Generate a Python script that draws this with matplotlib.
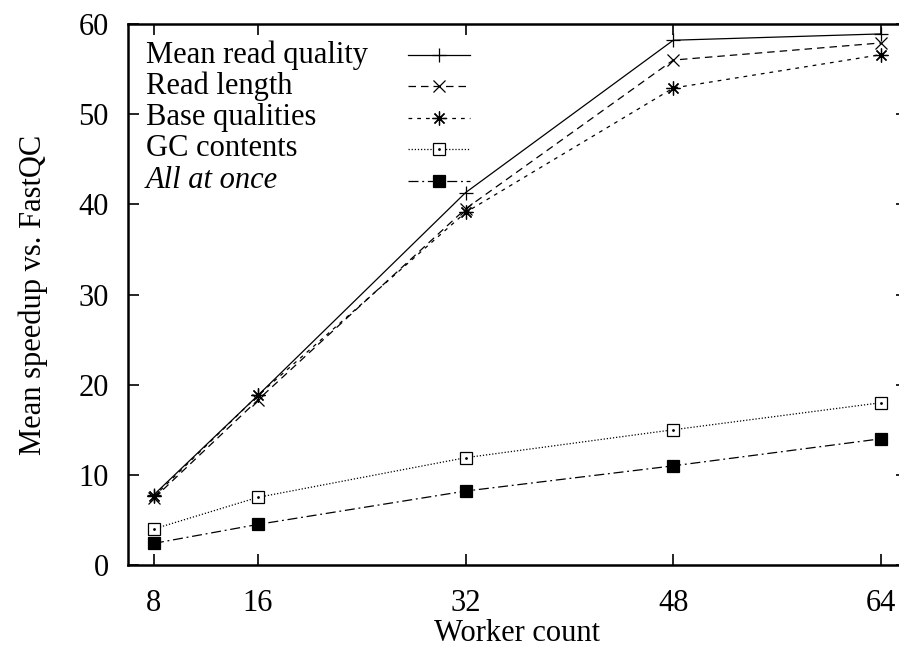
import matplotlib
matplotlib.use("Agg")
import matplotlib.pyplot as plt
from matplotlib.lines import Line2D

workers = [8, 16, 32, 48, 64]
mean_read_quality = [7.8, 18.8, 41.3, 58.2, 58.9]
read_length = [7.4, 18.3, 39.5, 56.0, 57.9]
base_qualities = [7.6, 18.8, 39.1, 52.9, 56.6]
gc_contents = [4.0, 7.5, 11.9, 15.0, 18.0]
all_at_once = [2.4, 4.5, 8.2, 11.0, 14.0]

labels = ["Mean read quality", "Read length", "Base qualities", "GC contents", "All at once"]
xticks = [8, 16, 32, 48, 64]
yticks = [0, 10, 20, 30, 40, 50, 60]

plt.rcParams['font.family'] = ['Liberation Serif', 'DejaVu Serif']
FS = 22

W, H = 899, 649
fig = plt.figure(figsize=(W / 100, H / 100), dpi=100)
left, right, top, bottom = 128, 907, 24, 565
ax = fig.add_axes([left / W, 1 - bottom / H, (right - left) / W, (bottom - top) / H])

lw = 0.9
styles = [
    dict(ls='-', marker='+', ms=10, mew=lw, mfc='black'),
    dict(ls=(0, (6, 4)), marker='x', ms=8, mew=lw, mfc='black'),
    dict(ls=(0, (3, 4)), marker=(8, 2, 0), ms=10, mew=lw, mfc='black'),
    dict(ls=(0, (1, 1.5)), marker='s', ms=8, mew=lw, mfc='white'),
    dict(ls=(0, (8, 3, 1.5, 3)), marker='s', ms=8, mew=lw, mfc='black'),
]
series = [mean_read_quality, read_length, base_qualities, gc_contents, all_at_once]

for vals, st in zip(series, styles):
    ax.plot(workers, vals, color='black', lw=lw, mec='black', **st)
ax.plot(workers, gc_contents, ls='none', marker='.', ms=2, color='black')

ax.set_xlim(6, 66)
ax.set_ylim(0, 60)
ax.set_xticks(xticks)
ax.set_yticks(yticks)
ax.tick_params(direction='in', length=8, width=1.2, top=True, right=True,
               labelsize=FS)
ax.tick_params(axis='x', pad=17)
ax.tick_params(axis='y', pad=14)
for s in ax.spines.values():
    s.set_linewidth(1.8)

ax.set_xlabel("Worker count", fontsize=FS, labelpad=1)
ax.set_ylabel("Mean speedup vs. FastQC", fontsize=FS, labelpad=22)

# gnuplot-style key: text left-aligned, sample to the right
tx = ax.transAxes
rows_px = [55, 86, 118, 149, 181]
text_x_px, s0_px, s1_px = 146, 408, 470
def fx(px):
    return (px - left) / (right - left)
def fy(py):
    return (bottom - py) / (bottom - top)
for i, (lab, st) in enumerate(zip(labels, styles)):
    y = fy(rows_px[i])
    ax.text(fx(text_x_px), y, lab, transform=tx, fontsize=FS, va='center', ha='left',
            fontstyle='italic' if i == 4 else 'normal')
    ax.add_line(Line2D([fx(s0_px), fx(s1_px)], [y, y], transform=tx, color='black',
                       lw=lw, ls=st['ls']))
    ax.add_line(Line2D([fx((s0_px + s1_px) / 2)], [y], transform=tx, color='black',
                       ls='none', marker=st['marker'], ms=st['ms'], mew=st['mew'],
                       mfc=st['mfc'], mec='black'))
    if i == 3:
        ax.add_line(Line2D([fx((s0_px + s1_px) / 2)], [y], transform=tx, color='black',
                           ls='none', marker='.', ms=2))

fig.savefig("out.png", dpi=100)
